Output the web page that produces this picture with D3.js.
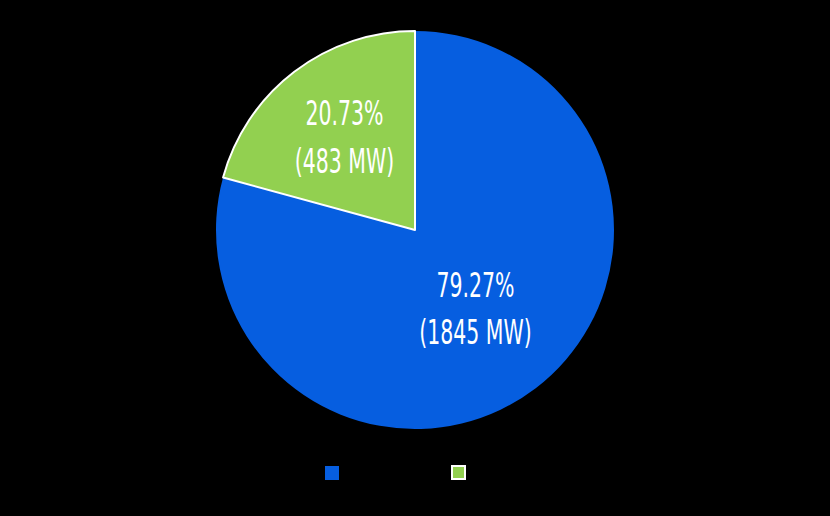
<!DOCTYPE html>
<html><head><meta charset="utf-8">
<script src="https://cdn.jsdelivr.net/npm/d3@7"></script>
<style>html,body{margin:0;padding:0;background:#000;}</style>
</head><body>
<svg id="c" width="830" height="516"></svg>
<script>
const categories = ["Series A", "Series B"];
const values = [1845, 483];
const percents = ["79.27%", "20.73%"];
const colors = ["#065ee0", "#92d050"];
const selected = [false, true];

const svg = d3.select("#c");
const cx = 415, cy = 230, r = 199;
const g = svg.append("g").attr("transform", `translate(${cx},${cy})`);
const pie = d3.pie().sort(null).value(d => d.v).startAngle(0).endAngle(2*Math.PI);
const data = pie(values.map((v,i)=>({v, i})));
const arc = d3.arc().innerRadius(0).outerRadius(r);
const labelArc = d3.arc().innerRadius(108).outerRadius(108);

g.selectAll("path").data(data).join("path")
  .attr("d", arc)
  .attr("fill", d => colors[d.data.i])
  .attr("stroke", d => selected[d.data.i] ? "#fff" : "none")
  .attr("stroke-width", 2)
  .attr("stroke-linejoin", "round");
g.selectAll("path").filter(d => selected[d.data.i]).raise();

const font = "'DejaVu Sans Condensed', sans-serif";
const lab = g.selectAll("g.lab").data(data).join("g").attr("class","lab")
  .attr("transform", d => { const [x,y] = labelArc.centroid(d); return `translate(${x-5},${y}) scale(0.67,1)`; });
lab.append("text").attr("text-anchor","middle").attr("y", -19)
  .attr("font-family", font).attr("font-size", 34).attr("fill","#fff")
  .text(d => percents[d.data.i]);
lab.append("text").attr("text-anchor","middle").attr("y", 28.5)
  .attr("font-family", font).attr("font-size", 34).attr("fill","#fff")
  .text(d => `(${d3.format("d")(d.data.v)} MW)`);

// legend
const leg = svg.append("g");
const lx = d3.scalePoint().domain(categories).range([325, 451]);
categories.forEach((c,i) => {
  const x = lx(c);
  if (selected[i]) {
    leg.append("rect").attr("x", x+1).attr("y", 466).attr("width", 13).attr("height", 13)
      .attr("fill", colors[i]).attr("stroke", "#fff").attr("stroke-width", 2);
  } else {
    leg.append("rect").attr("x", x).attr("y", 466).attr("width", 14).attr("height", 14)
      .attr("fill", colors[i]);
  }
  leg.append("text").attr("x", x+20).attr("y", 478).attr("fill","#000")
    .attr("font-family", font).attr("font-size", 14).text(c);
});
</script>
</body></html>
